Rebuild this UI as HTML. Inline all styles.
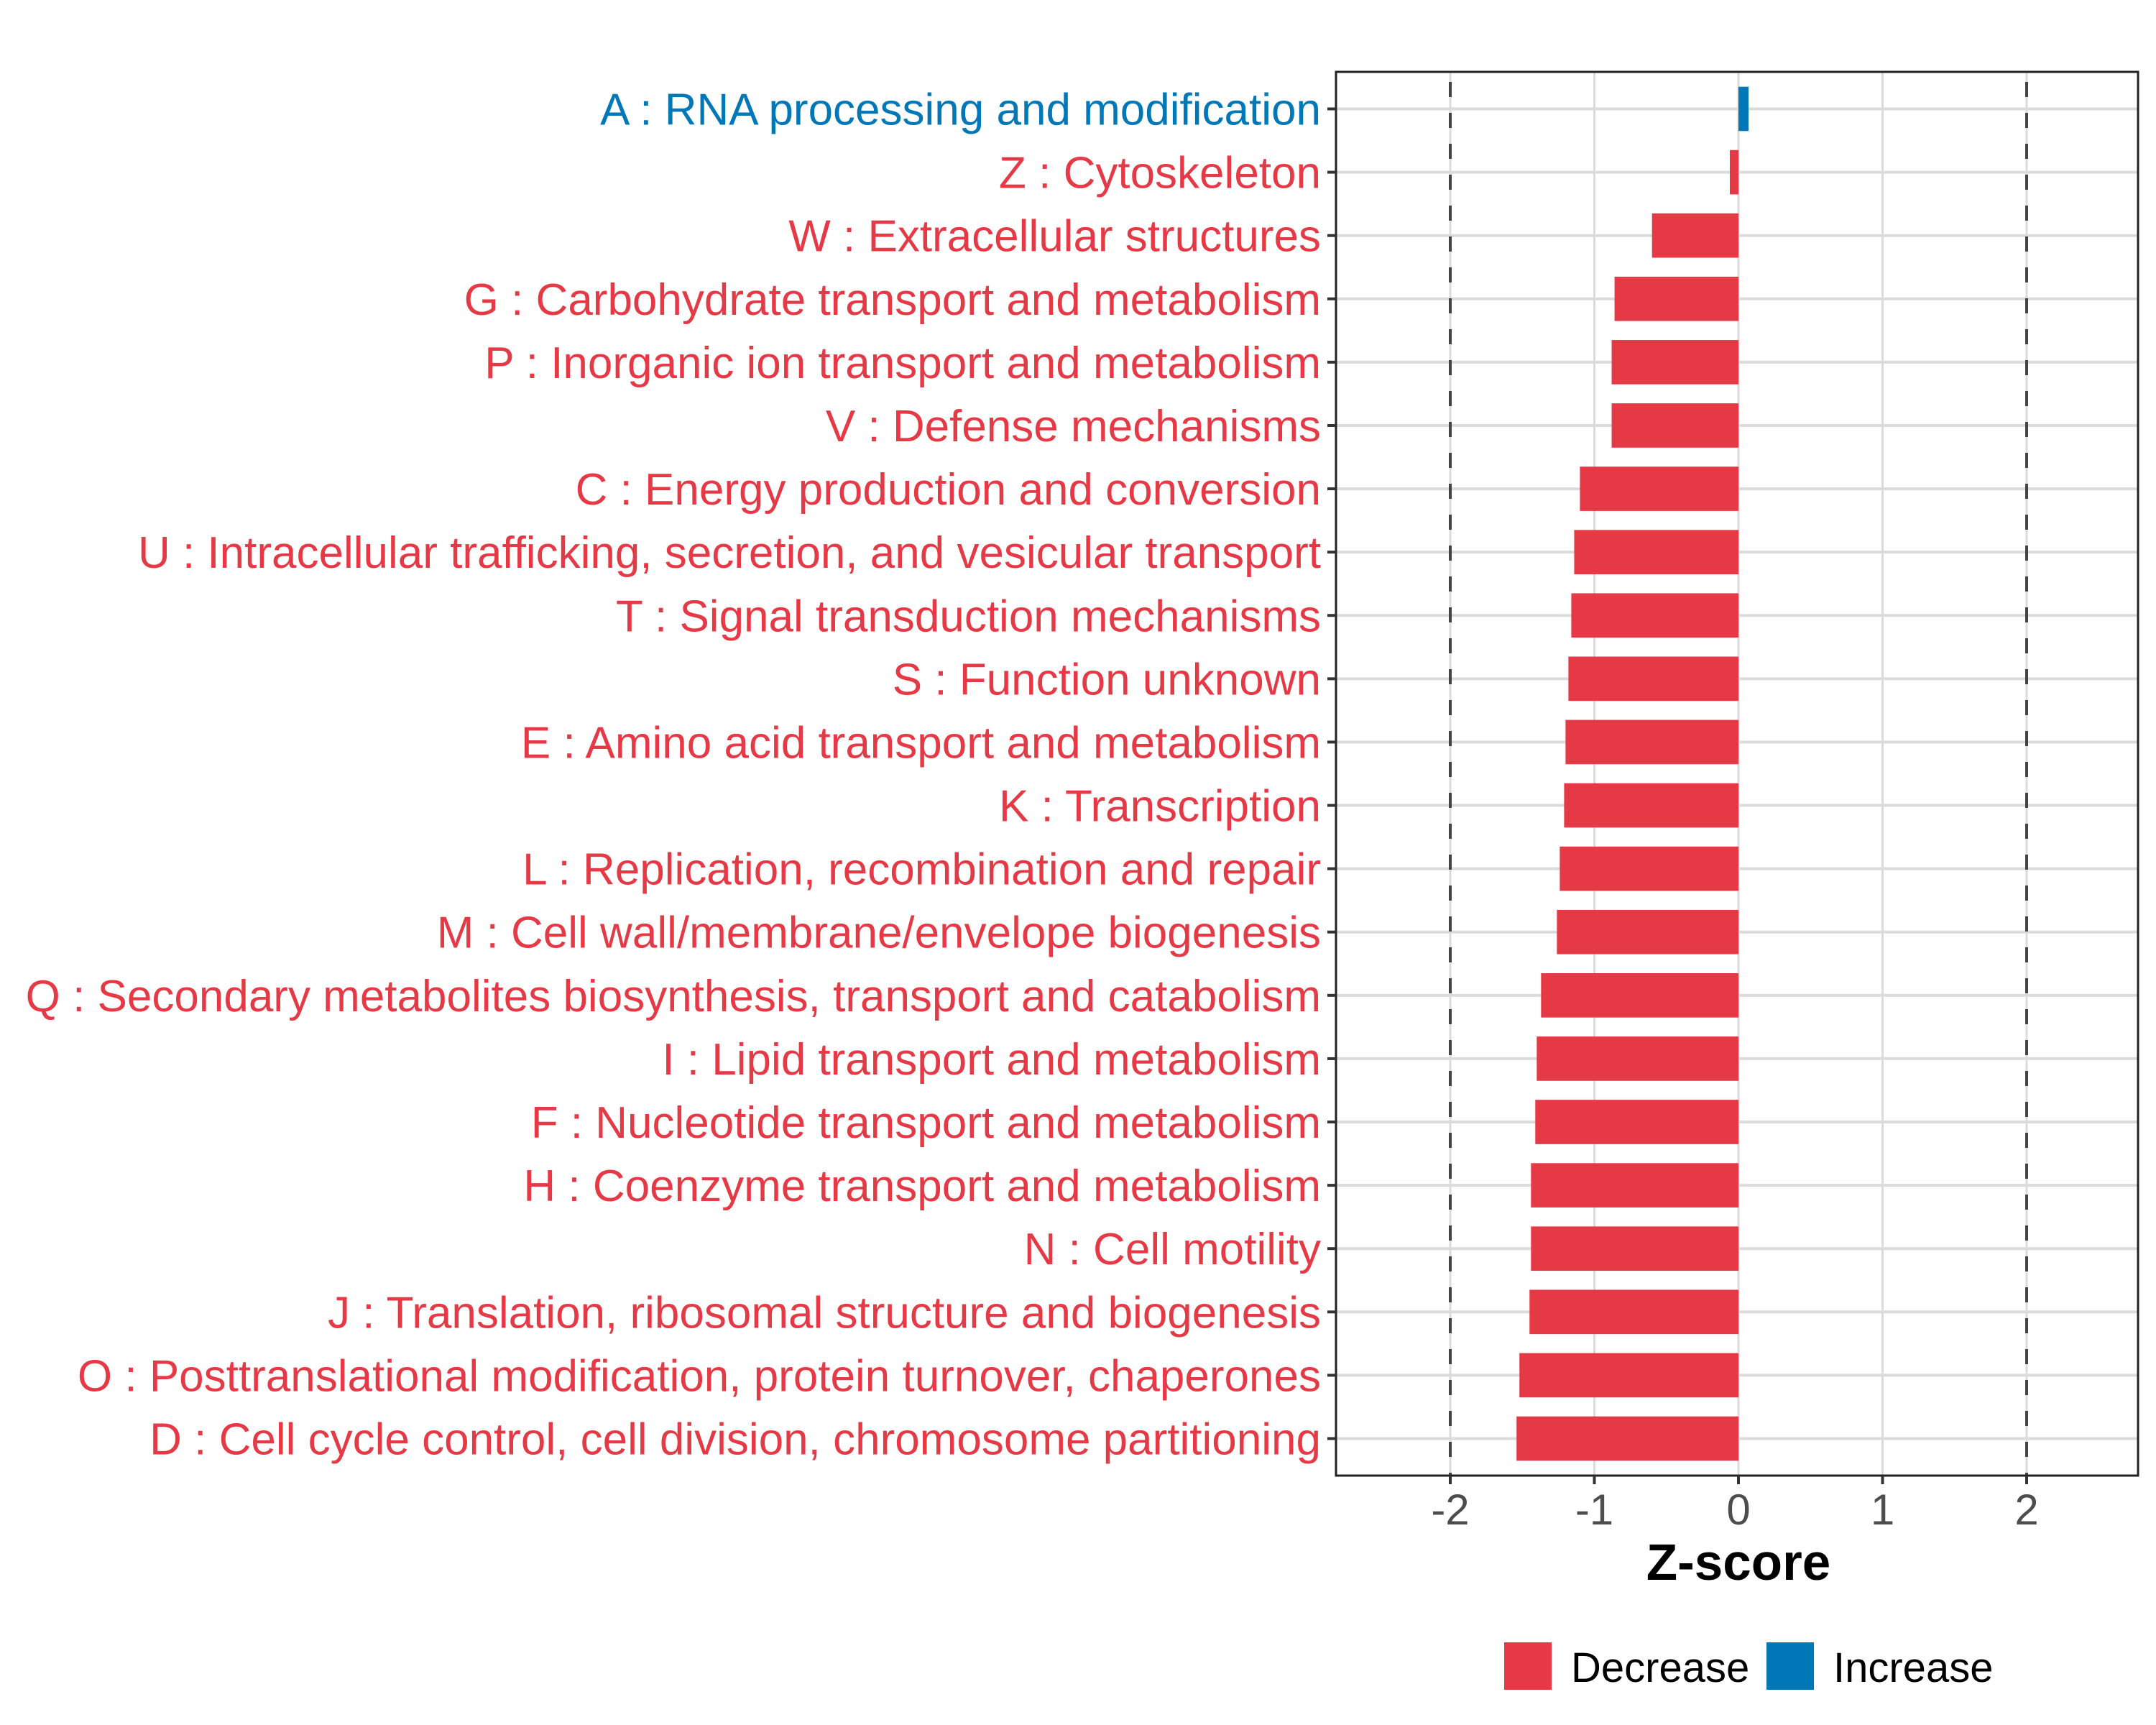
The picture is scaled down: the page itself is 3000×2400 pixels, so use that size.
<!DOCTYPE html>
<html><head><meta charset="utf-8"><style>html,body{margin:0;padding:0;background:#fff}svg{display:block}</style></head>
<body>
<svg id="chart" xmlns="http://www.w3.org/2000/svg" width="3000" height="2400" viewBox="0 0 3000 2400" font-family="'Liberation Sans', Arial, sans-serif"></svg>
<script>
const categories = ["A : RNA processing and modification","Z : Cytoskeleton","W : Extracellular structures","G : Carbohydrate transport and metabolism","P : Inorganic ion transport and metabolism","V : Defense mechanisms","C : Energy production and conversion","U : Intracellular trafficking, secretion, and vesicular transport","T : Signal transduction mechanisms","S : Function unknown","E : Amino acid transport and metabolism","K : Transcription","L : Replication, recombination and repair","M : Cell wall/membrane/envelope biogenesis","Q : Secondary metabolites biosynthesis, transport and catabolism","I : Lipid transport and metabolism","F : Nucleotide transport and metabolism","H : Coenzyme transport and metabolism","N : Cell motility","J : Translation, ribosomal structure and biogenesis","O : Posttranslational modification, protein turnover, chaperones","D : Cell cycle control, cell division, chromosome partitioning"];
const zscores = [0.07,-0.06,-0.6,-0.86,-0.88,-0.88,-1.1,-1.14,-1.16,-1.18,-1.2,-1.21,-1.24,-1.26,-1.37,-1.4,-1.41,-1.44,-1.44,-1.45,-1.52,-1.54];
const xTicks = [-2,-1,0,1,2];
const xTickLabels = ["-2","-1","0","1","2"];
const thresholds = [-2,2];

const NS="http://www.w3.org/2000/svg";
const svg=document.getElementById('chart');
const P={l:1859,r:2975,t:100,b:2053};
const X0=2419,UNIT=200.5;
const x=v=>X0+v*UNIT;
const rowTop=151.5,pitch=(2001.5-151.5)/(categories.length-1);
const y=i=>rowTop+i*pitch;
const RED="#E63946",BLUE="#0077B7";
function mk(tag,attrs,parent){const e=document.createElementNS(NS,tag);for(const k in attrs)e.setAttribute(k,attrs[k]);(parent||svg).appendChild(e);return e;}

const grid=mk('g',{});


xTicks.forEach(t=>{mk('line',{x1:x(t),x2:x(t),y1:P.t,y2:P.b,stroke:'#dbdbdb','stroke-width':3},grid);});
categories.forEach((c,i)=>{mk('line',{x1:P.l,x2:P.r,y1:y(i),y2:y(i),stroke:'#dbdbdb','stroke-width':4},grid);});

const th=mk('g',{});


thresholds.forEach(t=>{mk('line',{x1:x(t),x2:x(t),y1:P.t,y2:P.b,stroke:'#444','stroke-width':4,'stroke-dasharray':'21 22','stroke-dashoffset':'-14'},th);});

const bars=mk('g',{});


const bh=pitch*0.7;
zscores.forEach((v,i)=>{
  const r=mk('rect',{x:Math.min(x(0),x(v)),y:y(i)-bh/2,width:Math.abs(x(v)-x(0)),height:bh,fill:v>=0?BLUE:RED},bars);
  
  
});

const frame=mk('rect',{x:P.l,y:P.t,width:P.r-P.l,height:P.b-P.t,fill:'none',stroke:'#222','stroke-width':3});



const yl=mk('g',{});


categories.forEach((c,i)=>{
  mk('line',{x1:P.l-12,x2:P.l,y1:y(i),y2:y(i),stroke:'#333','stroke-width':4},yl);
  const t=mk('text',{x:P.l-21,y:y(i)+22,'text-anchor':'end','font-size':62,fill:zscores[i]>=0?BLUE:RED},yl);
  t.textContent=c;
  
  
});

const xl=mk('g',{});


xTicks.forEach((t,i)=>{
  mk('line',{x1:x(t),x2:x(t),y1:P.b,y2:P.b+12,stroke:'#333','stroke-width':4},xl);
  const tx=mk('text',{x:x(t),y:2121,'text-anchor':'middle','font-size':60,fill:'#4d4d4d'},xl);
  tx.textContent=xTickLabels[i];
  
  
});
const xt=mk('text',{x:x(0),y:2198,'text-anchor':'middle','font-size':71,'font-weight':'bold',fill:'#000'});
xt.textContent='Z-score';



const lg=mk('g',{});


const k1=mk('rect',{x:2093,y:2285,width:66,height:66,fill:RED},lg);


const t1=mk('text',{x:2186,y:2340,'font-size':58,fill:'#000'},lg);t1.textContent='Decrease';


const k2=mk('rect',{x:2458,y:2285,width:66,height:66,fill:BLUE},lg);


const t2=mk('text',{x:2551,y:2340,'font-size':58,fill:'#000'},lg);t2.textContent='Increase';


</script>
</body></html>
